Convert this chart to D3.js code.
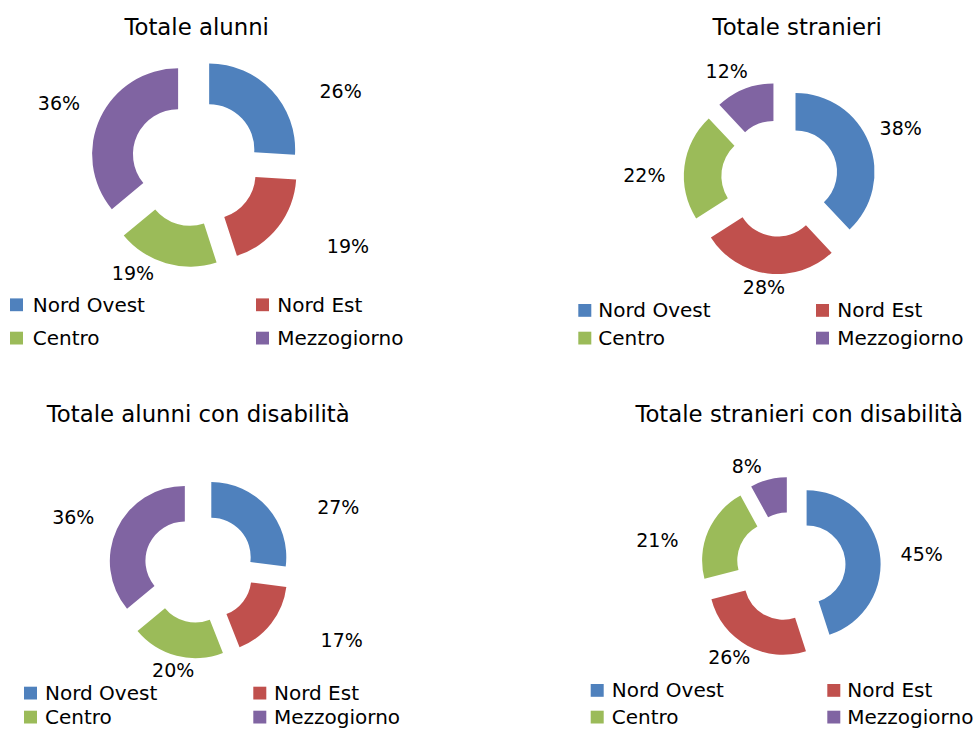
<!DOCTYPE html>
<html>
<head>
<meta charset="utf-8">
<script src="https://cdn.jsdelivr.net/npm/d3@7"></script>
<style>
  html, body { margin: 0; padding: 0; background: #fff; }
  svg { display: block; }
  text { font-family: "DejaVu Sans", sans-serif; fill: #000; }
</style>
</head>
<body>
<svg id="chart" width="979" height="729"></svg>
<script>
// ---- data ----
const categories = ["Nord Ovest", "Nord Est", "Centro", "Mezzogiorno"];
const colors = ["#4F81BD", "#C0504D", "#9BBB59", "#8064A2"];
const titles = ["Totale alunni", "Totale stranieri", "Totale alunni con disabilità", "Totale stranieri con disabilità"];
const totaleAlunni = [26, 19, 19, 36];
const totaleStranieri = [38, 28, 22, 12];
const alunniDisabilita = [27, 17, 20, 36];
const stranieriDisabilita = [45, 26, 21, 8];

// ---- layout (positions / sizes) ----
const layouts = [
  { values: totaleAlunni, cx: 195.3, cy: 162.4, R: 86, explode: 19,
    title: [196.7, 35],
    labels: [[63.7, 1.885], [118.7, 2.024], [209.5, 1.473], [293.5, 1.729]],
    legend: { keyX: [10, 256], textX: [32.7, 277.3], base: 311.7, row: 33.3 } },
  { values: totaleStranieri, cx: 779.7, cy: 178.2, R: 79, explode: 17,
    title: [797.2, 35],
    labels: [[67.6, 1.657], [188.2, 1.395], [271.4, 1.714], [333.7, 1.514]],
    legend: { keyX: [578.3, 816], textX: [598.3, 837.3], base: 317.3, row: 27.7 } },
  { values: alunniDisabilita, cx: 199.3, cy: 567.7, R: 75, explode: 16,
    title: [198.3, 422.3],
    labels: [[66.5, 2.021], [116.9, 2.129], [194.3, 1.408], [292.0, 1.812]],
    legend: { keyX: [24, 253.3], textX: [45, 274], base: 700, row: 24 } },
  { values: stranieriDisabilita, cx: 790.8, cy: 566.8, R: 74, explode: 16,
    title: [799.2, 421.7],
    labels: [[84.4, 1.777], [214.4, 1.472], [281.4, 1.840], [336.4, 1.487]],
    legend: { keyX: [590.7, 827.3], textX: [611.7, 847.3], base: 697.3, row: 26.7 } }
];

const svg = d3.select("#chart");
const color = d3.scaleOrdinal().domain(categories).range(colors);
const pie = d3.pie().sort(null).value(d => d.v);
const holeRatio = 0.525;
const labelSize = 19;

layouts.forEach((L, ci) => {
  const g = svg.append("g");
  // title
  g.append("text")
    .attr("x", L.title[0]).attr("y", L.title[1])
    .attr("text-anchor", "middle")
    .style("font-size", "22.8px")
    .text(titles[ci]);

  const arc = d3.arc().outerRadius(L.R).innerRadius(L.R * holeRatio);
  const data = pie(categories.map((c, i) => ({ c, v: L.values[i] })));
  const pg = g.append("g").attr("transform", `translate(${L.cx},${L.cy})`);

  pg.selectAll("path.slice").data(data).join("path")
    .attr("class", "slice")
    .attr("fill", d => color(d.data.c))
    .attr("d", arc)
    .attr("transform", d => {
      const m = (d.startAngle + d.endAngle) / 2;
      return `translate(${L.explode * Math.sin(m)},${-L.explode * Math.cos(m)})`;
    });

  pg.selectAll("text.lbl").data(data).join("text")
    .attr("class", "lbl")
    .attr("text-anchor", "middle")
    .style("font-size", labelSize + "px")
    .attr("x", (d, i) => L.labels[i][1] * L.R * Math.sin(L.labels[i][0] * Math.PI / 180))
    .attr("y", (d, i) => -L.labels[i][1] * L.R * Math.cos(L.labels[i][0] * Math.PI / 180) + 0.3645 * labelSize)
    .text(d => d3.format(".0f")(d.data.v) + "%");

  // legend (2 x 2)
  const lg = g.append("g");
  categories.forEach((c, i) => {
    const col = i % 2, row = Math.floor(i / 2);
    const base = L.legend.base + row * L.legend.row;
    lg.append("rect")
      .attr("x", L.legend.keyX[col]).attr("y", base - 13.3)
      .attr("width", 13).attr("height", 12.8)
      .attr("fill", color(c));
    lg.append("text")
      .attr("x", L.legend.textX[col]).attr("y", base)
      .style("font-size", "20px")
      .text(c);
  });
});
</script>
</body>
</html>
